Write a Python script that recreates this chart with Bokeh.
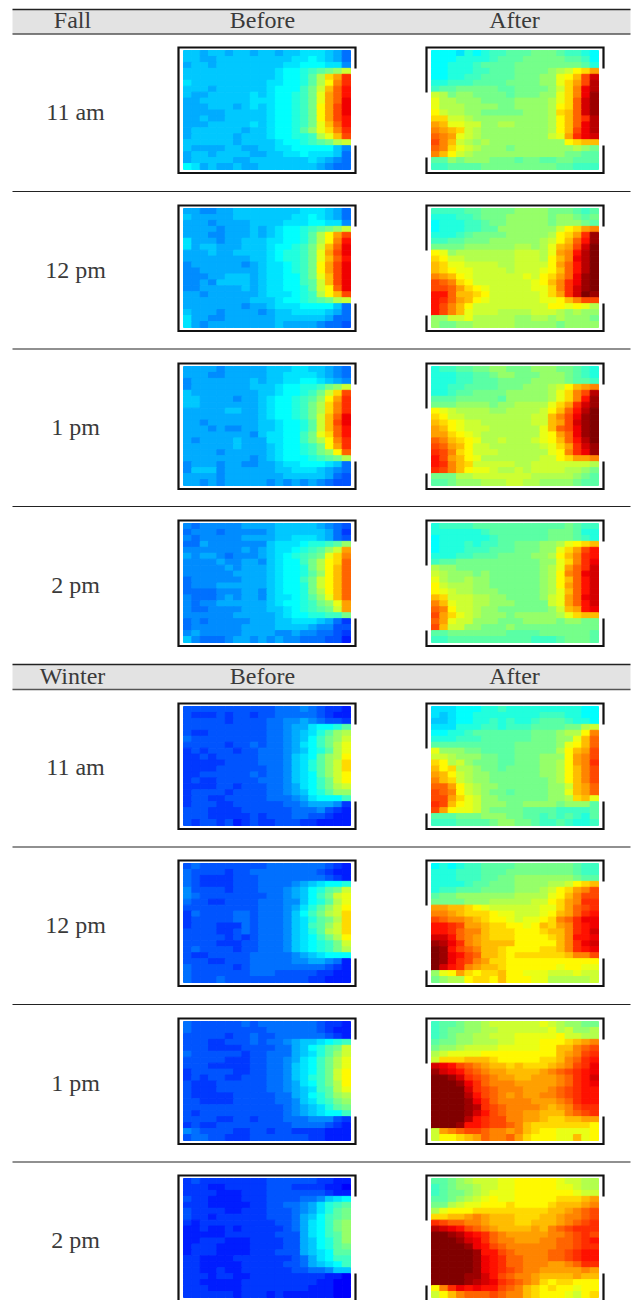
from bokeh.plotting import figure
from bokeh.models import ColumnDataSource, LinearColorMapper
from bokeh.transform import transform
from bokeh.core.properties import value
from bokeh.embed import file_html
from bokeh.resources import INLINE
import numpy as np

# Cell values: 20 x 20 grid, one base-36 digit per cell (0 = low, z = high)
fall_before_11 = ["bbabbabbabbabbcccba8","bbaabbbbbbbbbccdcba8","abbabbbbbbbbccdddcc9","bbbbbbbbbbbcddefghik",
"bbbbbbbbbbbcddegjnpt","cbbbbbbbbbccddegjmqt","bbbabbbbbbcdddfhkoru","baabbbbbcbcddefhlpru","aabbbbbbcccddefhlprv",
"aaabbbabcbcddefhmpsv","aaaaabbbbbcddefhmpsv","aabaabbbbbcddefhmpsu","aaabbbbbcbcddefhloru","abbbbbbabbcddegilnqt",
"abbbbbabbbcddeefjlos","bbbbbbabbbbcddefghjk","baaaabbaabbccdddddb9","abbabbbbaabbccdcccb8","abbbbbaabbbbbbbcba98","dcabaabaabbbbbbba988"]
fall_before_12 = ["aa99aabbbbbbbbcccba8","baaaaabbbbbbbccdcba8","aaa9aaaabbbbcccddcc9","aaaa9aaababcddefghik",
"aaa99aaababcddegjmps","caaa9aabbbccddegjmqu","cabbaaabbbcddefhkorv","aaabaabbbbcdeefhlpsv","aaaaaaaabbcdeefhloru",
"9aaaaaa9abccdefhmpsv","99aaaaaaabccdefhmpsv","999aabbbabccddfhlosv","99a9bbbbabccddfgkosv","99aaaaababccddegkmrv",
"aa9aaaaaabcccdefjmos","aaaaaaaabbbcddefghjk","aaaaaaa9aabcccddddb8","baaa9aaaa9abbccccba8","caa99aaaaaabbbbbba88","ca9aaaaaaaabaaaa9887"]
fall_before_1 = ["aaaa9aaaaabbbccbba98","aaa99aaaaabbccccba98","9aaaaaaababbccddcba9","9aaaaaaabbbcddeefhik",
"baaaaaaaabbcddefhkns","bbaaaa9aabcddefgimpt","bbaaaaaaabcddefhjnqt","aaaaabbaabcddefhjnqt","aaaaaaaaabcddefhkorv",
"aa9aaaaaabbcddegkosv","aaa9a99aabbcddegkoru","aaaaaaaa9bccddfhlnru","a9aaaabaaaccddfhjmqt","aaaaaabaaabcddefhmpt",
"aaaa9aaaaabcddefhimr","aaaaaaaa9abcdddefghj","9aaa9aa99aabccdddcb8","9bbb9aaaaaabbcccba98","aaaa9aaaaaaabbbbba87","aa9a9aaaaa9a9a9a9877"]
fall_before_2 = ["9899999aaaabbbbba987","8999899999abbbbbba86","9899999aaaabbcccba87","88a9999999bcccdeefgi",
"9999999a9abccdefgikp","a9aa98999abcdefghlnq","9999a99aa9bcddfhjmnr","99999a9aaabcddehjmor","999999aaaabcddegimor",
"8999999aaabcddfhkmor","8999aaaaaabcddehkmor","8888999aa9bcddehjmor","98889a9aa9bccdegilor","9899aaaaaabcddefhilp",
"9889999aaabbcdefghkp","999999aaaaabcddeeffh","89899999aaabbcccba86","8999999aaaabbbba9977","9a99999aaaa99a998876","b98889aa9a9a99888775"]
fall_after_11 = ["dddcedeffggghhhgffed","dddeeeefggghhhhhggfd","ddeeefgggghhhhhhhhge","ddeeeffggghhhhijkmnp",
"ddeeffgggghhhiilmosw","eefffgggghhhhiilnpsx","fgghhhhhgghhhhiknqvx","kjhiihhhhghhhiilnqvy","ljjiiihhhhiiiijlnrwy",
"ljjjiiiihhiiiijmnrwy","mkjjiihhhhhiiijnorwy","nnkkjiiiiiiiiijmortx","pollkkiijjiiiijmorvx","qponkjiiiiiiiijmosvx",
"rqplkjiiiiiiiiklptvw","sqokjijiiiiiiiiimnoo","rqnlkjiiihiiiiiiijih","qomkjiiiiiiiiiiihhgg","ggihiiihhhghhgghhggg","ffgggghhhhhhhhhggfff"]
fall_after_12 = ["ffffgghhhhiiiihhhgfg","eeeffghhhiiiiihiihgh","deeeffghhiiiiihiiihg","deeeffggiiiiiiikmnpq",
"eeefghhhhiiiiijmnpty","ffgghhhiiiiiijkmoruy","hhhhiiiiiijjijlopswz","mlijjjjjjjkkkjlpquxz","nmkkjjjjjjkkkjmoqvxz",
"onllkkkkjjkkkkmpruxz","onmllkkkkjkkklmoruxz","qpomlkkkkkklkmnprvyz","srqnmkkkkkkklmoqtvyz","ssrpnmlkkkkkllnqtwyz",
"uuroonmkkkkkklnptwzy","utrpomlkkkkkkllmoqss","usqomkkkkkkkkkmmlmlj","usqolkkkjjjjkkkjijii","iikkljjjjjiijjijiiih","ihhiijjjjjiiiiihiiii"]
fall_after_1 = ["effgghhiihhhiiihhgfe","eeeffgghiihhhiiihgfe","eeeffggghhhhiiiihggf","eeffgggghhhiiijkmopq",
"eefgghhhhiiiiijlnqsx","ggghhhhhgiiiiijlnquy","hhhiiiihiijjjjlnptwy","mlkjjjjiijjjjkmoruxz","nmkkjjjjjjjjkkoqsvyz",
"onmlkkjjjjjjkkopswyz","pomlkkkjjjjjjlorsvyz","ppnmlkjjjjjjjlmprvyz","rqonmljjkjjjklmoruxz","srpomkkjjjjjjklnptwy",
"tsqnmkkkjjjjjjlmqtvy","uspomljjjjjjjkkmnppq","utqonkkkkkjjkkkkkkkj","tsqomllkjjkjkkkkjjih","hhhjjkkkkkkkjjjjjihg","gghiiijjjkkjjiiiihgg"]
fall_after_2 = ["effffggggggggggghgff","eeeeeefggggggghhhgee","deeeeeefgggggghhhgfe","deeefeffgghhhiijlmno",
"deeefffggghhhiilnpsu","eeeffggghhhhiijmoqtu","fgghhhhhhhhhhiilnqtv","jiihhhhhhhhhhijlprtw","kjiiihihhhhhhijmqrvw",
"ljiijiihhhhhhijmoruw","mkjjjiihhhhhhijmpruw","mlkjjiiihhhhhijloruw","onkkkjjiihhhhiklprvw","qolkkjjiiihhhhklpruw",
"rqmkkjiihhhhhhikopuv","spnlkjiiihiiiiijlnoo","rplkkiiihhhiiiihiihh","sokkiihhhihhhhhhhhhh","gghhhhhhhgggghhhhhhg","ffggggggggggfffghhhg"]
winter_before_11 = ["77777777777888987665","76667677677888887655","77777677778899a98776","7777777777889aacddeg",
"7667777777889abcegij","8777777777889abdfhik","7777767787889acdfhjl","6767776778889abdegjl","6676777778889bcdgijm",
"6666677778889bcegikn","6666777777889bcegikn","6677777787889bcdgikm","6766777778889bcdfhkm","6666776777889acdfhjk",
"6777767777889abdegii","67766777778889acdddf","677766777777889aaa96","77766667777778889765","77766666767778877655","76776756766777665555"]
winter_before_12 = ["78777777778888888765","87777677888888887655","87666677788888888765","87666677788889abcdde",
"9777767778889abdeghk","9877777777889abdfhkl","87766777788899bdegjl","7777777778889acegikm","6877778878889bdfhjkn",
"6777778878889bceghjn","6777666878889bcfgikn","7777667878889bcegjkn","7777767678889bcdfhjm","7777666778889bcdefhk",
"7877776778889bcdefhj","76677777888889abcddd","777667778888899aa985","87777767888888888765","87777777888777776655","87778777777777766555"]
winter_before_1 = ["87777778788888887665","87777777778888887655","77777677877888888765","7776677787889abbcdef",
"7776666777788abdeghk","8777777677888abcegik","7777766677889acdfhjl","7776666677889bcdfhjl","6777776677889bcdfhkm",
"6767766777889bcefhkm","7666777777889acdfhjm","7666777777889abcfgjl","7666667777788abdegij","77666677777889bcefhi",
"77777777777789abcegh","76777777777789abcddf","77776677677788899976","67667777777778888765","98777766776776666555","78877666777777766555"]
winter_before_2 = ["67666666667777776655","66655666667776666554","66665556667777777655","76655556667777889bcd",
"666555556677889acefg","766665566677789acegh","76656666667778abdfgh","65666666666778acdfhi","55655656666678acdfhi",
"55555666666777acdfgi","55666555666677abdegi","56665555666677abdegh","56665555666777abcdgg","665555666666678acdff",
"665555566666778abcdf","6655655666666778 89bb".replace(" ","")[:20],"66656655666666666554","66555556666666665544","66655556666666655544","66666656665655555544"]
winter_after_11 = ["cccdddeefeeeeeeeeedd","cbcddeeeeeeeefffeedd","bbcddeefefeefgggfeed","ccceeeffefffgggghhjk",
"ddeefggggggghhhijjmq","eeefffgggggghhhiilor","gggggggggghhhhhilmor","liiihhgggghhhhhjmops","kkjiiihhgghhhiiimpqs",
"nmjkihhhgghhhiijmpqt","omnjjihhghhhhiijmoqs","pomkjiihhhhhhiijmoqs","qonkjiihhhhhhhijmoqs","rrpmkjiihhhhhhiikopr",
"srqmkjihhghhhhiilopr","sspnlkiihhhhhhiijnol","tsomlkiiihhiiiihiiig","spmllkihhhhggggffffg","ggghhhiiihhggfgfgfeg","fffgggghiihhgffgfeef"]
winter_after_12 = ["dedeffgggghhhhhhhgff","eeefffggghhhhhhhhgff","eeefffgghhiiiiiiihgg","eeeefgghhhiiiijjkmno",
"effggghhhhiiijkmnpqs","ghhiiiiiiijjjjlmoqss","hhhhiiijjjjjkkmnpqtt","ppoonmlkkkkkkllnprst","qqponnnmllkkklmoprtu",
"srqqponmmlkllmnqrtvv","uutspponnmmlmonpqtuv","uutrqqonnnmmmnooqtuw","wwurqponnnmmmmnoquuv","yxvtqpoooommmmmoqtvw",
"zyusrqoonmmmmnnoqtuv","zyvusroonmnnnnnnoqqs","zyvtsqpnnmmmmmmmmmmm","zwutqpoonmmmmmmlmmll","ilmpnmnnommlllkkklkk","hijjmnnmommmlljjjjjk"]
winter_after_1 = ["fgghiijkkkkkklkjiihh","fghhiijjkkkkkkljkiij","fghiijjkkklllllmkkjj","ghhiijjjkklllmmmnopq",
"hiijkkkklllllmmooqrs","jkllllmmmmmmmmmopqst","knnnooonmmmmmnnoqrtu","wvusrqpoononnnopqstv","ywvusrqppoooopqrstuv",
"zzywtsrqppoopppqrtuw","zzzyvtrqqqpppppqrtuv","zzzzwtsrqqqpppqrstuu","zzzzxusrqpqppqqrstuu","zzzzyvtrqqqqpppqrtuu",
"zzzzyxtsrqqqqpopqstt","zzzzywusrqqppoooqrst","zzzzxutssqqpponnoopp","zzzyuutssrqonnnnnnnm","kpqrssrqqpqonmmllllm","kmmnoprqqrpnmmmllolm"]
winter_after_2 = ["gghijkkkllmmmmmlkkjj","fghiijkkllmmmmmllkjj","fghhijklllmmmmmmmlkk","gghijklmllmmmmmnnnop",
"hhjkllmmmnmmmmnooopq","jlmmmnnnnnnnnnoopqrs","nnoopqpooonnnoopqqrs","tsrrqqpooonnooopqrst","xwvusrqpoooopoqrstt",
"zzyxvutrqpppppqqrsts","zzzywvtrqqpppqqrrstu","zzzzyvusrqqqqqqrrstt","zzzzzyuusrqqqqrrstuu","zzzzzyvutrrqqqrrstuu",
"zzzzzyvutrrqqqppqrtt","zzzzzyvutsrqqpppppqp","zzzzyywusrqqpoooopoo","zzzzyxwvtsrqpnmnnmmm","mqtvuvuusrqonmnmmlmm","kmoqrrrsrqqonmmmlkmn"]

season_labels = ["Fall", "Winter"]
column_labels = ["Before", "After"]
time_labels = ["11 am", "12 pm", "1 pm", "2 pm"]

heat_maps = [
    [fall_before_11, fall_after_11], [fall_before_12, fall_after_12],
    [fall_before_1, fall_after_1], [fall_before_2, fall_after_2],
    [winter_before_11, winter_after_11], [winter_before_12, winter_after_12],
    [winter_before_1, winter_after_1], [winter_before_2, winter_after_2],
]

# Layout, in page pixels
heat_tops = [50, 208, 366, 523, 706, 863, 1021, 1178]
heat_lefts = [183, 431]
HEAT_W, HEAT_H, N = 167.0, 119.0, 20
label_ys = [111.5, 269.5, 426.5, 584.5, 766.5, 924.5, 1082.5, 1239.5]
rule_ys = [191, 348.5, 506, 846.5, 1004, 1161.5]
header_tops = [9, 664]
header_bottoms = [33.5, 689]

# jet colour ramp
stops = np.array([0, .125, .375, .625, .875, 1.0])
chan = np.array([[0, 0, 0, 255, 255, 128], [0, 0, 255, 255, 0, 0], [143, 255, 255, 0, 0, 0]])
ts = np.linspace(0, 1, 256)
jet = ["#%02x%02x%02x" % tuple(int(round(np.interp(t, stops, c))) for c in chan) for t in ts]
mapper = LinearColorMapper(palette=jet, low=-0.4, high=35)

p = figure(width=632, height=1300, x_range=(0, 632), y_range=(1300, 0),
           output_backend="svg", toolbar_location=None, min_border=0,
           outline_line_color=None, background_fill_color="white")
p.axis.visible = False
p.grid.visible = False

# header bands
p.quad(left=12, right=630, top=header_tops, bottom=header_bottoms, fill_color="#e3e3e3", line_color=None)
p.segment(x0=12, x1=630, y0=header_tops, y1=header_tops, line_color="#222222", line_width=1.5)
p.segment(x0=12, x1=630, y0=header_bottoms, y1=header_bottoms, line_color="#555555", line_width=1.5)
p.segment(x0=12, x1=630, y0=rule_ys, y1=rule_ys, line_color="#222222", line_width=1.2)

# cells
L, R, T, B, V = [], [], [], [], []
for top, pair in zip(heat_tops, heat_maps):
    for left, rows in zip(heat_lefts, pair):
        for r, row in enumerate(rows):
            row = (row + row[-1] * N)[:N]
            for c, ch in enumerate(row):
                L.append(left + c * HEAT_W / N)
                R.append(left + (c + 1) * HEAT_W / N)
                T.append(top + r * HEAT_H / N)
                B.append(top + (r + 1) * HEAT_H / N)
                V.append(int(ch, 36))
src = ColumnDataSource(dict(left=L, right=R, top=T, bottom=B, v=V))
p.quad(left="left", right="right", top="top", bottom="bottom", source=src,
       fill_color=transform("v", mapper), line_color=transform("v", mapper), line_width=1.0)

# frames
xs, ys = [], []
for top in heat_tops:
    t, b = top - 3, top + HEAT_H + 3.5
    x0, x1 = heat_lefts[0] - 5, heat_lefts[0] + HEAT_W + 5
    xs.append([x1, x1, x0, x0, x1, x1]); ys.append([top + 18, t, t, b, b, top + 95])
    x0, x1 = heat_lefts[1] - 5, heat_lefts[1] + HEAT_W + 5
    xs.append([x0, x0, x1, x1]); ys.append([top + 42, t, t, top + 18])
    xs.append([x0, x0, x1, x1]); ys.append([top + 107, b, b, top + 95])
p.multi_line(xs, ys, line_color="#111111", line_width=2.2, line_join="miter", line_cap="butt")

# text
font = value("Liberation Serif")
tx = [72, 72] + [262, 262, 514, 514]
ty = [19.5, 675.5] + [19.5, 675.5, 19.5, 675.5]
tt = season_labels + [column_labels[0]] * 2 + [column_labels[1]] * 2
tx += [75] * 8
ty += label_ys
tt += time_labels * 2
p.text(x=tx, y=ty, text=tt, text_font=font, text_font_size="24px", text_color="#3a3a3a",
       text_align="center", text_baseline="middle")

open("out.html", "w").write(file_html(p, INLINE))
